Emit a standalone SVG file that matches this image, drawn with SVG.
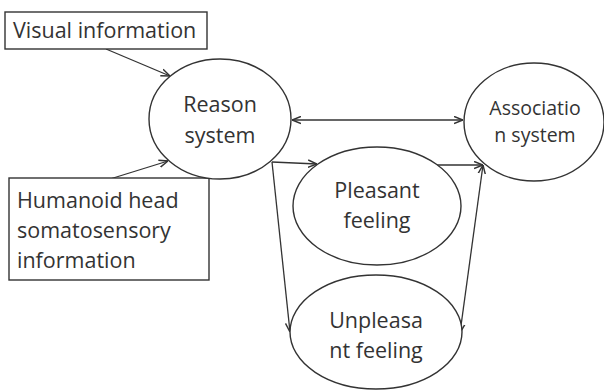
<svg xmlns="http://www.w3.org/2000/svg" width="604" height="390" viewBox="0 0 604 390">
<defs>
<marker id="ah" viewBox="0 0 10 10" refX="10" refY="5" markerWidth="9" markerHeight="9" markerUnits="userSpaceOnUse" orient="auto-start-reverse">
<path d="M0,1 L10,5 L0,9" fill="none" stroke="#333" stroke-width="1.6"/>
</marker>
<style>
.shape{fill:#fff;stroke:#333;stroke-width:1.4}
.t{font-family:"Open Sans","Liberation Sans",sans-serif;font-size:21.5px;fill:#333;text-anchor:middle}
.tl{font-family:"Open Sans","Liberation Sans",sans-serif;font-size:21.5px;fill:#333}
.c{fill:none;stroke:#333;stroke-width:1.3;marker-end:url(#ah)}
.bi{marker-start:url(#ah)}
</style>
</defs>
<rect width="604" height="390" fill="#fff"/>
<g id="connectors">
<line class="c" x1="106" y1="49" x2="170" y2="76"/>
<line class="c" x1="110" y1="179" x2="168" y2="161"/>
<line class="c bi" x1="292" y1="120" x2="463" y2="120"/>
<line class="c" x1="272" y1="162" x2="317" y2="164"/>
<line class="c" x1="272" y1="162" x2="290" y2="332"/>
<line class="c" x1="437" y1="165" x2="483" y2="165"/>
<line class="c bi" x1="483" y1="165" x2="460" y2="333"/>
</g>
<g id="visual">
<rect class="shape" x="5" y="12" width="202" height="37"/>
<text class="tl" x="13" y="38">Visual information</text>
</g>
<g id="humanoid">
<rect class="shape" x="9" y="178" width="200" height="102"/>
<text class="tl" x="17" y="208">Humanoid head</text>
<text class="tl" x="17" y="238">somatosensory</text>
<text class="tl" x="17" y="268">information</text>
</g>
<g id="reason">
<ellipse class="shape" cx="220" cy="119" rx="71" ry="60"/>
<text class="t" x="220" y="112">Reason</text>
<text class="t" x="220" y="143">system</text>
</g>
<g id="association">
<ellipse class="shape" cx="534" cy="122" rx="70" ry="59"/>
<text class="t" x="535" y="115" style="font-size:19.5px">Associatio</text>
<text class="t" x="535" y="142" style="font-size:19.5px">n system</text>
</g>
<g id="pleasant">
<ellipse class="shape" cx="377" cy="206" rx="84" ry="59"/>
<text class="t" x="377" y="198">Pleasant</text>
<text class="t" x="377" y="228">feeling</text>
</g>
<g id="unpleasant">
<ellipse class="shape" cx="376" cy="332" rx="86" ry="57"/>
<text class="t" x="376" y="328">Unpleasa</text>
<text class="t" x="376" y="358">nt feeling</text>
</g>
</svg>
